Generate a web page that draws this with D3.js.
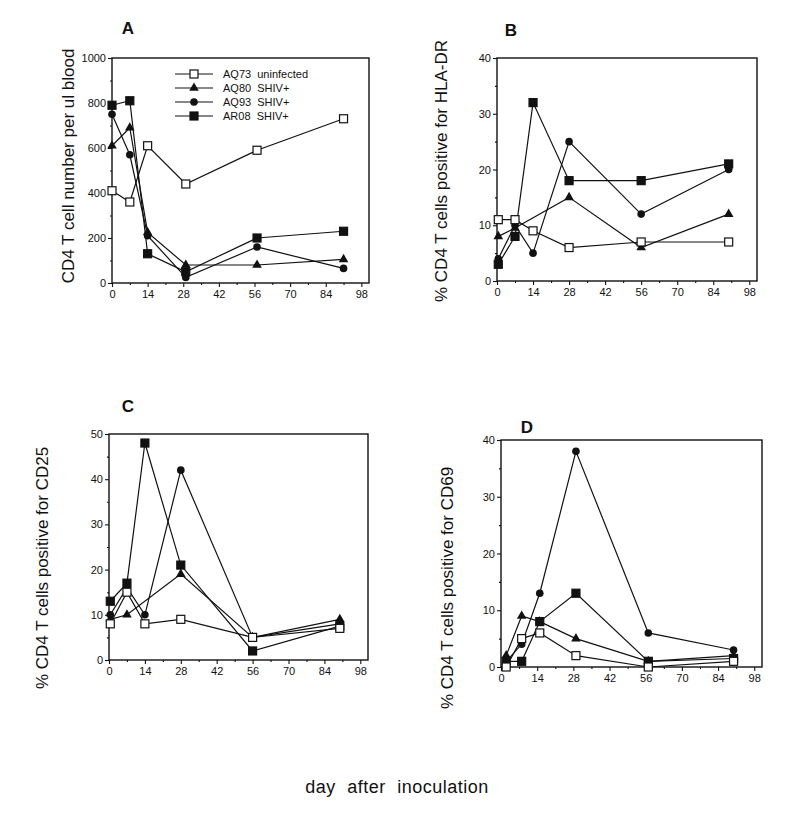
<!DOCTYPE html>
<html><head><meta charset="utf-8">
<script src="https://cdn.jsdelivr.net/npm/d3@7"></script>
<style>
body{margin:0;background:#fff}
text{font-family:"Liberation Sans",Arial,Helvetica,sans-serif;fill:#111}
</style>
</head><body>
<svg id="chart" width="789" height="818"></svg>
<script>
// ---- data ----
const seriesNames = ["AQ73  uninfected", "AQ80  SHIV+", "AQ93  SHIV+", "AR08  SHIV+"];
const seriesSymbols = ["openSquare", "triangle", "circle", "square"];
const xTickValues = [0, 14, 28, 42, 56, 70, 84, 98];

const daysA = [0, 7, 14, 29, 57, 91];
const aq73A = [410, 360, 610, 440, 590, 730];
const aq80A = [610, 690, 225, 80, 80, 105];
const aq93A = [750, 570, 210, 25, 160, 65];
const ar08A = [790, 810, 130, 50, 200, 230];
const yTicksA = [0, 200, 400, 600, 800, 1000];

const daysB = [0.5, 7, 14, 28, 56, 90];
const aq73B = [11, 11, 9, 6, 7, 7];
const aq80B = [8, 9.5, null, 15, 6, 12];
const aq93B = [4, 10, 5, 25, 12, 20];
const ar08B = [3, 8, 32, 18, 18, 21];
const yTicksB = [0, 10, 20, 30, 40];

const daysC = [0.5, 7, 14, 28, 56, 90];
const aq73C = [8, 15, 8, 9, 5, 7];
const aq80C = [9, 10, null, 19, 5, 9];
const aq93C = [10, 16, 10, 42, 5, 8];
const ar08C = [13, 17, 48, 21, 2, 7.5];
const yTicksC = [0, 10, 20, 30, 40, 50];

const daysD = [2, 8, 15, 29, 57, 90];
const aq73D = [0, 5, 6, 2, 0, 1];
const aq80D = [2, 9, 8, 5, 1, 2];
const aq93D = [1, 4, 13, 38, 6, 3];
const ar08D = [1, 1, 8, 13, 1, 1.5];
const yTicksD = [0, 10, 20, 30, 40];

const panels = [
  {letter:"A", days:daysA, series:[aq73A, aq80A, aq93A, ar08A], yTicks:yTicksA, yMinor:100,
   label:"CD4 T cell number per ul blood", box:[112, 58, 257, 225],
   letterPos:[128, 34], labelPos:[68, 166], legend:true},
  {letter:"B", days:daysB, series:[aq73B, aq80B, aq93B, ar08B], yTicks:yTicksB, yMinor:5,
   label:"% CD4 T cells positive for HLA-DR", box:[497, 58, 260, 223],
   letterPos:[511, 36], labelPos:[441, 171]},
  {letter:"C", days:daysC, series:[aq73C, aq80C, aq93C, ar08C], yTicks:yTicksC, yMinor:5,
   label:"% CD4 T cells positive for CD25", box:[109, 434, 259, 226],
   letterPos:[128, 412], labelPos:[42, 568]},
  {letter:"D", days:daysD, series:[aq73D, aq80D, aq93D, ar08D], yTicks:yTicksD, yMinor:5,
   label:"% CD4 T cells positive for CD69", box:[501, 440, 261, 227],
   letterPos:[527, 433], labelPos:[447, 588]}
];

const svg = d3.select("#chart");
svg.append("rect").attr("width",789).attr("height",818).attr("fill","#fff");

function drawMarker(g, type, x, y){
  if(type==="openSquare" || type==="square"){
    g.append("rect").attr("x",x-4).attr("y",y-4).attr("width",8).attr("height",8)
      .attr("fill", type==="square" ? "#111" : "#fff").attr("stroke","#111").attr("stroke-width",1.2);
  } else if(type==="circle"){
    g.append("circle").attr("cx",x).attr("cy",y).attr("r",3.8).attr("fill","#111");
  } else {
    g.append("path").attr("transform",`translate(${x},${y})`)
      .attr("d", d3.symbol().type(d3.symbolTriangle).size(40)()).attr("fill","#111");
  }
}

panels.forEach(p => {
  const [L,T,W,H] = p.box;
  const yMax = p.yTicks[p.yTicks.length-1];
  const x = d3.scaleLinear().domain([0,101]).range([L, L+W]);
  const y = d3.scaleLinear().domain([0,yMax]).range([T+H, T]);
  const g = svg.append("g");

  // minor ticks
  const xMinor = d3.range(7, 101, 14);
  g.append("g").attr("transform",`translate(0,${T+H})`)
    .call(d3.axisBottom(x).tickValues(xMinor).tickSize(2).tickFormat(""))
    .call(a=>a.select(".domain").remove());
  const yMinorVals = d3.range(p.yMinor, yMax, p.yMinor*2);
  g.append("g").attr("transform",`translate(${L},0)`)
    .call(d3.axisLeft(y).tickValues(yMinorVals).tickSize(2).tickFormat(""))
    .call(a=>a.select(".domain").remove());

  // major axes
  const xa = g.append("g").attr("transform",`translate(0,${T+H})`)
    .call(d3.axisBottom(x).tickValues(xTickValues).tickSize(4).tickPadding(3).tickSizeOuter(0).tickFormat(d3.format("d")));
  xa.select(".domain").remove();
  xa.selectAll("text").attr("font-size",11).attr("fill","#111");
  const ya = g.append("g").attr("transform",`translate(${L},0)`)
    .call(d3.axisLeft(y).tickValues(p.yTicks).tickSize(4).tickPadding(2).tickSizeOuter(0).tickFormat(d3.format("d")));
  ya.select(".domain").remove();
  ya.selectAll("text").attr("font-size",11).attr("fill","#111");
  g.selectAll(".tick line").attr("stroke","#111").attr("stroke-width",1.1);

  // box
  g.append("rect").attr("x",L).attr("y",T).attr("width",W).attr("height",H)
    .attr("fill","none").attr("stroke","#111").attr("stroke-width",1.4);

  // lines
  const line = d3.line().x(d=>x(d[0])).y(d=>y(d[1]));
  p.series.forEach((vals,i) => {
    const pts = p.days.map((d,j)=>[d, vals[j]]).filter(d=>d[1]!==null);
    g.append("path").datum(pts).attr("d", line).attr("fill","none")
      .attr("stroke","#111").attr("stroke-width",1.2);
  });
  // markers (open squares drawn last)
  [1,2,3,0].forEach(i => {
    const vals = p.series[i];
    p.days.forEach((d,j)=>{
      if(vals[j]!==null) drawMarker(g, seriesSymbols[i], x(d), y(vals[j]));
    });
  });

  // letter
  svg.append("text").attr("x",p.letterPos[0]).attr("y",p.letterPos[1])
    .attr("text-anchor","middle").attr("font-size",17).attr("font-weight","bold").text(p.letter);
  // y label
  svg.append("text").attr("transform",`translate(${p.labelPos[0]},${p.labelPos[1]}) rotate(-90)`)
    .attr("text-anchor","middle").attr("dominant-baseline","central")
    .attr("font-size",17).text(p.label);

  if(p.legend){
    const lg = svg.append("g");
    seriesNames.forEach((name,i)=>{
      const yy = 74 + i*14;
      lg.append("line").attr("x1",175).attr("x2",213).attr("y1",yy).attr("y2",yy)
        .attr("stroke","#111").attr("stroke-width",1.2);
      drawMarker(lg, seriesSymbols[i], 194, yy);
      lg.append("text").attr("x",223).attr("y",yy).attr("dominant-baseline","central")
        .attr("font-size",11).attr("xml:space","preserve").style("white-space","pre").text(name);
    });
  }
});

svg.append("text").attr("x",397).attr("y",793).attr("text-anchor","middle")
  .attr("font-size",18).attr("word-spacing",6).attr("letter-spacing",0.5)
  .text("day after inoculation");
</script>
</body></html>
